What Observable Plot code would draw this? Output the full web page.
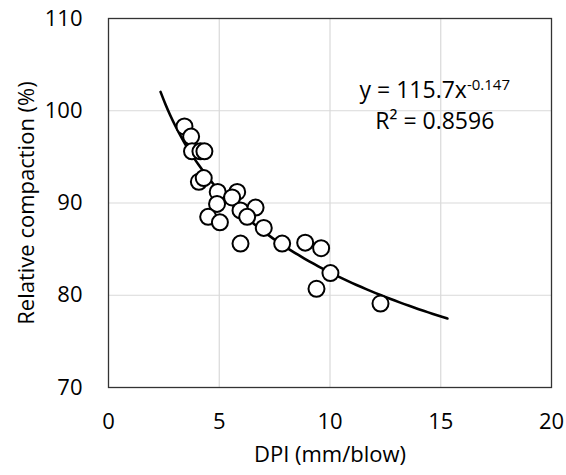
<!DOCTYPE html>
<html>
<head>
<meta charset="utf-8">
<script src="https://cdn.jsdelivr.net/npm/d3@7"></script>
<script src="https://cdn.jsdelivr.net/npm/@observablehq/plot@0.6"></script>
<style>
  html, body { margin: 0; padding: 0; background: #fff; }
</style>
</head>
<body>
<div id="chart"></div>
<script>
const dpi = [3.43, 3.73, 3.77, 4.15, 4.33, 4.08, 4.30, 4.93, 5.81, 5.58, 4.90, 5.96, 6.64, 6.26, 4.50, 5.03, 7.01, 5.96, 7.84, 8.88, 9.60, 10.02, 9.39, 12.28];
const compaction = [98.3, 97.2, 95.6, 95.6, 95.6, 92.3, 92.7, 91.2, 91.2, 90.6, 89.9, 89.2, 89.5, 88.5, 88.5, 87.9, 87.3, 85.6, 85.6, 85.7, 85.1, 82.4, 80.7, 79.1];

// Power trendline printed on the chart: y = 115.7 x^-0.147
const trendA = 115.7;
const trendB = -0.147;
const trendRange = [2.35, 15.3];
const trendSteps = 60;

const xTicks = [0, 5, 10, 15, 20];
const yTicks = [70, 80, 90, 100, 110];
const xGrid = [5, 10, 15];
const yGrid = [80, 90, 100];

const equationText = "y = 115.7x";
const equationExp = "-0.147";
const r2Text = "R² = 0.8596";
const xLabel = "DPI (mm/blow)";
const yLabel = "Relative compaction (%)";

const points = dpi.map((d, i) => ({x: d, y: compaction[i]}));
const trend = d3.range(trendSteps + 1).map(i => {
  const x = trendRange[0] + (trendRange[1] - trendRange[0]) * i / trendSteps;
  return {x, y: trendA * Math.pow(x, trendB)};
});

const font = "'Open Sans', Lato, sans-serif";

const chart = Plot.plot({
  width: 566,
  height: 475,
  marginLeft: 108,
  marginRight: 15,
  marginTop: 18,
  marginBottom: 88,
  style: {fontFamily: font, fontSize: "22px", color: "#000", background: "#fff"},
  x: {domain: [0, 20], label: null},
  y: {domain: [70, 110], label: null},
  marks: [
    Plot.ruleX(xGrid, {stroke: "#d9d9d9", strokeWidth: 1.2}),
    Plot.ruleY(yGrid, {stroke: "#d9d9d9", strokeWidth: 1.2}),
    Plot.frame({stroke: "#333", strokeWidth: 1.3}),
    Plot.line(trend, {x: "x", y: "y", stroke: "#000", strokeWidth: 2.6, curve: "natural"}),
    Plot.dot(points, {x: "x", y: "y", r: 8, fill: "#fff", stroke: "#000", strokeWidth: 2}),
    Plot.axisX(xTicks, {tickSize: 0, tickPadding: 26, fontSize: 22, fill: "#000"}),
    Plot.axisY(yTicks, {tickSize: 0, tickPadding: 26, fontSize: 22, fill: "#000"}),
    Plot.text([equationText], {x: 14.73, y: 102.2, fontSize: 23, fill: "#000", textAnchor: "middle", className: "eq"}),
    Plot.text([r2Text], {x: 14.73, y: 98.85, fontSize: 23, fill: "#000", textAnchor: "middle"}),
    Plot.text([xLabel], {frameAnchor: "bottom", dy: 74, fontSize: 22, fill: "#000"}),
    Plot.text([yLabel], {frameAnchor: "left", dx: -82, rotate: -90, textAnchor: "middle", fontSize: 22, fill: "#000"})
  ]
});

// add superscript exponent to the equation
d3.select(chart).selectAll("g.eq text").each(function() {
  const t = d3.select(this);
  t.append("tspan").attr("dy", "-0.5em").attr("font-size", "15px").text(equationExp);
});

document.getElementById("chart").appendChild(chart);
</script>
</body>
</html>
